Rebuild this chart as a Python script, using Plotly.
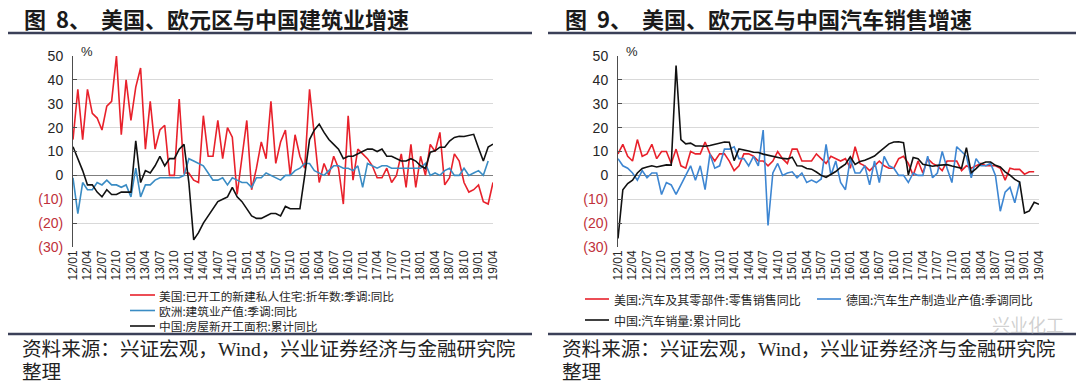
import plotly.graph_objects as go

W, H = 1080, 384

# ---------------- data ----------------
months = [f"{y:02d}/{m:02d}" for y in range(12, 20) for m in range(1, 13)][:88]   # 12/01 .. 19/04
x_tick_labels = months[::3]
y_tick_vals = [-30, -20, -10, 0, 10, 20, 30, 40, 50]
y_tick_text = ["(30)", "(20)", "(10)", "0", "10", "20", "30", "40", "50"]

# Figure 8 – construction
us_housing = [15, 36, 15, 36, 26, 24, 19, 29, 31, 50, 17, 40,
              23, 37, 45, 11, 31, 11, 19, 21, 0, 0, 32, 1,
              1, -2, -3, 25, 8, 8, 23, 7, 20, 16, -8, 7,
              23, -6, 3, 14, 7, 31, 5, 14, 19, 0, 17, 8,
              3, 36, 15, -3, 5, 0, 8, 3, -12, 25, -2, 11,
              9, 7, 4, -1, -1, 3, -3, 0, 9, -5, 13, -5,
              8, 0, 13, 10, 18, -4, -1, 9, 6, -3, -7, -6,
              -4, -11, -12, -3]
eu_construction = [-1, -16, -3, -6, -6, -3, -4, -2, -4, -4, -5, -4,
                   -9, 3, -9, -4, -4, -2, -1, -1, -1, -1, -1, 0,
                   7, 6, 5, 4, 1, -2, -2, -1, -4, -1, -2, -3,
                   -3, -5, -1, -1, 1, 0, -1, -2, 0, 0, 2, 3,
                   5, 5, 2, 1, 0, 2, 4, 4, 3, 3, 2, 4,
                   -5, 5, 4, 3, 4, 4, 3, 3, 3, 3, 3, 3,
                   3, 5, 0, 1, 0, 2, 3, 0, 0, 3, 0, 1,
                   2, 0, 6, None]
cn_new_starts = [12, 7, 2, -4, -4, -7, -9, -6, -8, -8, -7, -7,
                 -7, 14.5, -3, 2, 1, 4, 8, 4, 7, 7, 11, 13,
                 -3, -27, -24, -20, -17, -14, -11, -10, -9, -5, -9, -11,
                 -14, -17, -18, -18, -17, -16, -16, -17, -13, -14, -14, -14,
                 0, 15, 19, 21.5, 18, 15, 13, 11, 7, 8, 8, 9,
                 10, 11, 11, 10, 11, 8, 8, 7, 6, 6, 7, 6,
                 4, 2.9, 9.7, 10.3, 11.8, 11.8, 14.4, 15.9, 16.4, 16.3, 16.8, 17.2,
                 11.5, 6.0, 11.9, 13.1]

# Figure 9 – auto sales
us_auto_sales = [9, 13, 8, 6, 15, 8, 9, 13, 7, 10, 10, 5,
                 11, 4, 3, 10, 9, 9, 14, 9, 6, 9, 9, 6,
                 2, 4, 9, 9, 8, 6, 6, 4, 6, 10, 7, 5,
                 11, 11, 6, 6, 6, 9, 7, 5, 8, 7, 6, 7,
                 3, 12, 5, 4, 2, 4, 6, 4, 3, 3, 7, 8,
                 5, 0, 6, 1, 7, 5, 4, 2, 6, 6, 6, 2,
                 4, 3, 4, 5, 4, 4, 4, 3, -2, 3, 2.5, 2.5,
                 0.5, 1.5, 1.5, None]
de_auto_output = [7, 4, 3, 1, -2, 2, -1, 1, 1, -8, -3, -4,
                  -8, -4, 0, 4, -2, 4, -6, 9, 3, 4, 11, 11,
                  12, 7, 7, 4, 8, 4, 19, -21, 1, 5, 0, 1,
                  1.5, -1, 1, -3, -2, -3, -1.5, 13, 0, 6, -3, -6,
                  7, 1, 1, 4, -4, 6, -3, 8, 4, 3, 0, 0,
                  -3, 1, 0, 0, 8, -1, 1, 10, 3, -3, 12, 10,
                  8, -1, 7, 4, 4, 5, 0, -15, -7, -5, -11.5, -2.6,
                  None, None, None, None]
cn_auto_sales = [-26.4, -6, -3.4, -2, 1, 2.9, 3.5, 4, 3.5, 3.9, 4.4, 4.3,
                 46, 15, 13.2, 13.5, 12.3, 12.3, 12.2, 12.5, 13.0, 13.7, 14, 13.9,
                 6.2, 11.1, 10.5, 10.2, 9.7, 9.6, 8.9, 8.4, 7.9, 7.7, 7.1, 6.9,
                 7.6, 4, 3.9, 2.9, 2.6, 1.4, 0.0, -0.8, 0.3, 1.6, 3.3, 4.7,
                 7.8, 4.6, 5.8, 6.3, 7.2, 8.1, 9.8, 11.6, 13.2, 14.0, 14.1, 13.7,
                 0.2, 7.5, 7.0, 4.6, 4.2, 3.8, 4.2, 4.3, 4.5, 3.9, 3.5, 3.0,
                 11.6, 1.1, 2.8, 4.8, 5.6, 5.6, 4.2, 3.5, 1.5, 0.1, -1.7, -2.8,
                 -15.8, -14.9, -11.3, -12.1]

titles = ["图&nbsp; 8、&nbsp; 美国、欧元区与中国建筑业增速", "图&nbsp; 9、&nbsp; 美国、欧元区与中国汽车销售增速"]
names_left = ["美国:已开工的新建私人住宅:折年数:季调:同比", "欧洲:建筑业产值:季调:同比", "中国:房屋新开工面积:累计同比"]
names_right = ["美国:汽车及其零部件:零售销售同比", "德国:汽车生产制造业产值:季调同比", "中国:汽车销量:累计同比"]
source_line1 = "资料来源：兴证宏观，Wind，兴业证券经济与金融研究院"
source_line2 = "整理"

RED = "#e8212b"
BLUE_L = "#3a8cc4"
BLUE_R = "#3d86d2"
BLACK = "#111111"
NEG = "#c0313a"

# ---------------- figure ----------------
fig = go.Figure()

def add(x_axis, y_axis, vals, color, name):
    fig.add_trace(go.Scatter(x=months, y=vals, mode="lines", name=name,
                             line=dict(color=color, width=1.6),
                             xaxis=x_axis, yaxis=y_axis, showlegend=False,
                             connectgaps=False))

add("x", "y", us_housing, RED, names_left[0])
add("x", "y", eu_construction, BLUE_L, names_left[1])
add("x", "y", cn_new_starts, BLACK, names_left[2])
add("x2", "y2", us_auto_sales, RED, names_right[0])
add("x2", "y2", de_auto_output, BLUE_R, names_right[1])
add("x2", "y2", cn_auto_sales, BLACK, names_right[2])

tick_text_html = [f'<span style="color:{NEG}">{t}</span>' if v < 0 else t
                  for v, t in zip(y_tick_vals, y_tick_text)]

def px(x):
    return x / W

def py(y):
    return 1 - y / H

xcommon = dict(type="category", range=[0, len(months) - 1], tickmode="array",
               tickvals=x_tick_labels, ticktext=x_tick_labels, tickangle=-90,
               showgrid=False, zeroline=False, showline=False, ticks="",
               automargin=False,
               tickfont=dict(family="Liberation Sans, Arial", size=12, color="#262626"))
ycommon = dict(range=[-30, 50], tickmode="array", tickvals=y_tick_vals, ticktext=tick_text_html,
               showgrid=True, gridcolor="#d9d9d9", gridwidth=1,
               zeroline=True, zerolinecolor="#7f7f7f", zerolinewidth=1.4,
               showline=True, linecolor="#4d4d4d", linewidth=1,
               ticks="inside", ticklen=4, tickcolor="#4d4d4d",
               ticklabelstandoff=6, automargin=False,
               tickfont=dict(family="Liberation Sans, Arial", size=14, color="#262626"))

fig.update_layout(
    width=W, height=H, autosize=False,
    margin=dict(l=0, r=0, t=0, b=0, pad=0, autoexpand=False),
    paper_bgcolor="white", plot_bgcolor="white", showlegend=False,
    xaxis=dict(domain=[px(73), px(493)], anchor="y", **xcommon),
    yaxis=dict(domain=[py(247), py(56)], anchor="x", **ycommon),
    xaxis2=dict(domain=[px(618), px(1039)], anchor="y2", **xcommon),
    yaxis2=dict(domain=[py(247), py(56)], anchor="x2", **ycommon),
)

ann = []
shapes = []
# titles
for xs, t in [(22, titles[0]), (563, titles[1])]:
    ann.append(dict(x=px(xs), y=py(18), xref="paper", yref="paper", text=f"<b>{t}</b>",
                    showarrow=False, xanchor="left", yanchor="middle",
                    font=dict(family="Noto Sans CJK SC", size=22, color="#1a1a1a")))
# rules under titles / above source
for x0, x1 in [(8, 532), (548, 1076)]:
    for yy in (33, 334):
        shapes.append(dict(type="line", xref="paper", yref="paper", x0=px(x0), x1=px(x1),
                           y0=py(yy), y1=py(yy), line=dict(color="#3b4058", width=2.5)))
# percent labels
for xs in (87, 632):
    ann.append(dict(x=px(xs), y=py(51), xref="paper", yref="paper", text="%", showarrow=False,
                    xanchor="center", yanchor="middle",
                    font=dict(family="Liberation Sans, Arial", size=13, color="#262626")))
# legend (left) – swatches plus one multi-line label block
left_rows = [295, 310.5, 326]
for yy, col in zip(left_rows, [RED, BLUE_L, BLACK]):
    shapes.append(dict(type="line", xref="paper", yref="paper", x0=px(130), x1=px(155),
                       y0=py(yy), y1=py(yy), line=dict(color=col, width=1.6)))
ann.append(dict(x=px(157), y=py(left_rows[1]), xref="paper", yref="paper",
                text="<br>".join(names_left), showarrow=False, align="left",
                xanchor="left", yanchor="middle",
                font=dict(family="Noto Sans CJK SC", size=11.7, color="#262626")))
# legend (right)
for (x0, yy, col, nm) in [(585, 299, RED, names_right[0]), (817, 299, BLUE_R, names_right[1]),
                          (585, 320, BLACK, names_right[2])]:
    shapes.append(dict(type="line", xref="paper", yref="paper", x0=px(x0), x1=px(x0 + 24),
                       y0=py(yy), y1=py(yy), line=dict(color=col, width=1.6)))
    ann.append(dict(x=px(x0 + 27), y=py(yy), xref="paper", yref="paper", text=nm, showarrow=False,
                    xanchor="left", yanchor="middle",
                    font=dict(family="Noto Sans CJK SC", size=12, color="#262626")))
# source notes
for xs in (20, 560):
    ann.append(dict(x=px(xs), y=py(349), xref="paper", yref="paper", text=source_line1, showarrow=False,
                    xanchor="left", yanchor="middle",
                    font=dict(family="Liberation Serif, Noto Sans CJK SC", size=19.6, color="#222222")))
    ann.append(dict(x=px(xs), y=py(372), xref="paper", yref="paper", text=source_line2, showarrow=False,
                    xanchor="left", yanchor="middle",
                    font=dict(family="Liberation Serif, Noto Sans CJK SC", size=19.6, color="#222222")))
# watermark
ann.append(dict(x=px(1028), y=py(324), xref="paper", yref="paper", text="兴业化工", showarrow=False,
                xanchor="center", yanchor="middle",
                font=dict(family="Noto Sans CJK SC", size=18, color="rgba(170,170,170,0.55)")))

fig.update_layout(annotations=ann, shapes=shapes)
fig.write_html("out.html",
               config={"displayModeBar": False, "staticPlot": True},
               post_script="document.body.style.margin='0';document.body.style.padding='0';"
                           "document.body.style.overflow='hidden';")
